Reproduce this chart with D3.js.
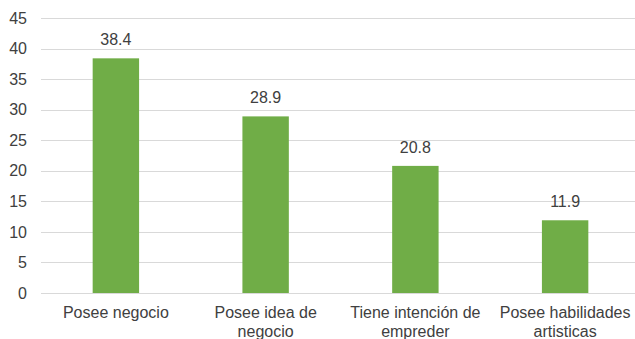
<!DOCTYPE html>
<html>
<head>
<meta charset="utf-8">
<script src="https://cdn.jsdelivr.net/npm/d3@7/dist/d3.min.js"></script>
<style>
  html, body { margin: 0; padding: 0; background: #fff; overflow: hidden; }
  svg { display: block; }
  text { font-family: "Liberation Sans", Arial, sans-serif; fill: #404040; }
</style>
</head>
<body>
<svg id="chart" width="635" height="339"></svg>
<script>
// Chart data
const categories = [
  ["Posee negocio"],
  ["Posee idea de", "negocio"],
  ["Tiene intención de", "empreder"],
  ["Posee habilidades", "artisticas"]
];
const values = [38.4, 28.9, 20.8, 11.9];
const yTicks = [0, 5, 10, 15, 20, 25, 30, 35, 40, 45];

const svg = d3.select("#chart");
const margin = { left: 41, right: -5, top: 18, bottom: 46 };
const W = 635, H = 339;
const fontSize = 16;

const x = d3.scaleBand()
  .domain(d3.range(values.length))
  .range([margin.left, W - margin.right])
  .paddingInner(0.69)
  .paddingOuter(0.345);

const y = d3.scaleLinear()
  .domain([0, 45])
  .range([H - margin.bottom, margin.top]);

// Horizontal gridlines
svg.append("g")
  .selectAll("line")
  .data(yTicks)
  .join("line")
  .attr("x1", margin.left)
  .attr("x2", W)
  .attr("y1", d => Math.round(y(d)) + 0.5)
  .attr("y2", d => Math.round(y(d)) + 0.5)
  .attr("stroke", "#d9d9d9")
  .attr("stroke-width", 1);

// Y axis labels
const yAxis = d3.axisLeft(y).tickValues(yTicks).tickSize(0).tickPadding(0);
const gy = svg.append("g")
  .attr("transform", `translate(${27},0)`)
  .call(yAxis);
gy.select(".domain").remove();
gy.selectAll("text")
  .attr("font-size", fontSize)
  .attr("fill", "#404040")
  .style("font-family", "'Liberation Sans', Arial, sans-serif");

// Bars
svg.append("g")
  .selectAll("rect")
  .data(values)
  .join("rect")
  .attr("x", (d, i) => x(i))
  .attr("y", d => y(d))
  .attr("width", x.bandwidth())
  .attr("height", d => y(0) - y(d))
  .attr("fill", "#70ad47");

// Value labels
svg.append("g")
  .selectAll("text")
  .data(values)
  .join("text")
  .attr("x", (d, i) => x(i) + x.bandwidth() / 2)
  .attr("y", d => y(d) - 13)
  .attr("text-anchor", "middle")
  .attr("font-size", fontSize)
  .text(d => d.toFixed(1));

// Category labels
const cat = svg.append("g")
  .selectAll("text")
  .data(categories)
  .join("text")
  .attr("x", (d, i) => x(i) + x.bandwidth() / 2)
  .attr("y", y(0) + 24.5)
  .attr("text-anchor", "middle")
  .attr("font-size", fontSize);
cat.selectAll("tspan")
  .data(d => d)
  .join("tspan")
  .attr("x", function () { return d3.select(this.parentNode).attr("x"); })
  .attr("dy", (d, i) => i === 0 ? 0 : 19.5)
  .text(d => d);
</script>
</body>
</html>
